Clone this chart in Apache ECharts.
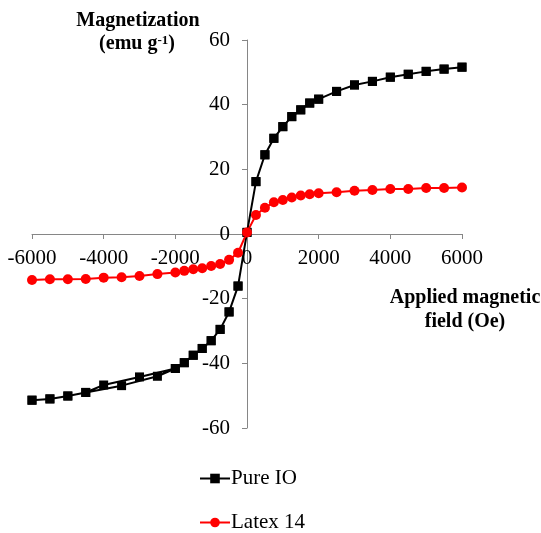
<!DOCTYPE html>
<html>
<head>
<meta charset="utf-8">
<script src="https://cdn.jsdelivr.net/npm/echarts@6/dist/echarts.min.js"></script>
<style>
html,body{margin:0;padding:0;background:#fff;}
#chart{width:541px;height:533px;}
</style>
</head>
<body>
<div id="chart"></div>
<script>
// Axis ticks
const xTicks = [-6000, -4000, -2000, 0, 2000, 4000, 6000];
const yTicks = [-60, -40, -20, 0, 20, 40, 60];

// Pure IO: descending branch (from +6000 Oe to -6000 Oe)
const ioDownField = [6000, 5500, 5000, 4500, 4000, 3500, 3000, 2500, 2000, 1750, 1500, 1250, 1000, 750, 500, 250, 0,
  -250, -500, -750, -1000, -1250, -1500, -1750, -2000, -3000, -4000, -4500, -5000, -5500, -6000];
const ioDownM = [51.6, 51.0, 50.3, 49.4, 48.5, 47.2, 46.1, 44.1, 41.7, 40.5, 38.4, 36.3, 33.2, 29.6, 24.5, 16.2, 0.5,
  -16.1, -24.1, -29.5, -33.0, -35.4, -37.5, -39.8, -41.6, -44.2, -46.7, -49.0, -50.1, -51.0, -51.4];
// Pure IO: ascending branch (from -6000 Oe to +6000 Oe)
const ioUpField = [-6000, -5500, -5000, -4500, -3500, -2500, -2000, -1750, -1500, -1250, -1000, -750, -500, -250, 0,
  250, 500, 750, 1000, 1250, 1500, 1750, 2000, 2500, 3000, 3500, 4000, 4500, 5000, 5500, 6000];
const ioUpM = [-51.4, -51.0, -50.1, -49.0, -46.9, -44.0, -41.6, -39.8, -37.5, -35.4, -33.0, -29.5, -24.1, -16.1, 0.5,
  16.2, 24.5, 29.6, 33.2, 36.3, 38.4, 40.5, 41.7, 44.1, 46.1, 47.2, 48.5, 49.4, 50.3, 51.0, 51.6];

// Latex 14
const latexField = [-6000, -5500, -5000, -4500, -4000, -3500, -3000, -2500, -2000, -1750, -1500, -1250, -1000, -750, -500, -250, 0,
  250, 500, 750, 1000, 1250, 1500, 1750, 2000, 2500, 3000, 3500, 4000, 4500, 5000, 5500, 6000];
const latexM = [-14.2, -14.0, -14.0, -13.9, -13.5, -13.4, -13.0, -12.4, -11.9, -11.4, -10.9, -10.6, -9.9, -9.3, -8.0, -5.8, 0.5,
  5.9, 8.1, 9.8, 10.5, 11.3, 11.9, 12.3, 12.6, 12.9, 13.4, 13.6, 13.9, 13.9, 14.2, 14.2, 14.4];

const seriesNames = ['Pure IO', 'Latex 14'];

const ioData = ioDownField.map((x, i) => [x, ioDownM[i]])
  .concat(ioUpField.map((x, i) => [x, ioUpM[i]]));
const latexData = latexField.map((x, i) => [x, latexM[i]]);

// Layout
const G = {left: 32, top: 40, width: 430, height: 388};
const xMin = xTicks[0], xMax = xTicks[xTicks.length - 1];
const yMin = yTicks[0], yMax = yTicks[yTicks.length - 1];
// distance from grid edge to the zero line (axes cross at the origin)
const yAxisShift = G.width * (0 - xMin) / (xMax - xMin);
const xAxisShift = G.height * (0 - yMin) / (yMax - yMin);

const FONT = '"Liberation Serif", "Times New Roman", serif';
const chart = echarts.init(document.getElementById('chart'), null, {renderer: 'canvas'});
chart.setOption({
  backgroundColor: '#ffffff',
  animation: false,
  grid: Object.assign({containLabel: false, outerBoundsMode: 'none'}, G),
  xAxis: {
    type: 'value', min: xMin, max: xMax, interval: 2000, position: 'bottom', offset: -xAxisShift,
    axisLine: {onZero: false, lineStyle: {color: '#868686', width: 1}},
    axisTick: {show: true, length: 5, lineStyle: {color: '#868686'}},
    splitLine: {show: false},
    axisLabel: {fontFamily: FONT, fontSize: 21, color: '#000', margin: 14,
      formatter: v => xTicks.includes(v) ? String(v) : ''}
  },
  yAxis: {
    type: 'value', min: yMin, max: yMax, interval: 20, position: 'left', offset: -yAxisShift,
    axisLine: {onZero: false, lineStyle: {color: '#868686', width: 1}},
    axisTick: {show: true, length: 5, lineStyle: {color: '#868686'}},
    splitLine: {show: false},
    axisLabel: {fontFamily: FONT, fontSize: 21, color: '#000', margin: 17,
      formatter: v => yTicks.includes(v) ? String(v) : ''}
  },
  legend: {
    orient: 'vertical', left: 199, top: 468, padding: 0, itemWidth: 30, itemHeight: 12, itemGap: 23,
    textStyle: {fontFamily: FONT, fontSize: 21, color: '#000', padding: [0, 0, 0, -4]},
    data: seriesNames
  },
  series: [
    {name: seriesNames[0], type: 'line', data: ioData, symbol: 'rect', symbolSize: 9,
      itemStyle: {color: '#000'}, lineStyle: {color: '#000', width: 2}},
    {name: seriesNames[1], type: 'line', data: latexData, symbol: 'circle', symbolSize: 10,
      itemStyle: {color: '#ff0000'}, lineStyle: {color: '#ff0000', width: 2}}
  ],
  graphic: [
    {type: 'text', x: 138, y: 21, style: {text: 'Magnetization', font: 'bold 20px ' + FONT,
      fill: '#000', textAlign: 'center', textVerticalAlign: 'middle'}},
    {type: 'text', x: 137, y: 44, style: {text: '(emu g{sup|-1})', fontFamily: FONT, fontSize: 20, fontWeight: 'bold',
      fill: '#000', align: 'center', verticalAlign: 'middle',
      rich: {sup: {fontSize: 13, fontWeight: 'bold', fontFamily: FONT, verticalAlign: 'top', lineHeight: 20}}}},
    {type: 'text', x: 465, y: 298, style: {text: 'Applied magnetic', font: 'bold 20px ' + FONT,
      fill: '#000', textAlign: 'center', textVerticalAlign: 'middle'}},
    {type: 'text', x: 465, y: 322, style: {text: 'field (Oe)', font: 'bold 20px ' + FONT,
      fill: '#000', textAlign: 'center', textVerticalAlign: 'middle'}}
  ]
});
</script>
</body>
</html>
